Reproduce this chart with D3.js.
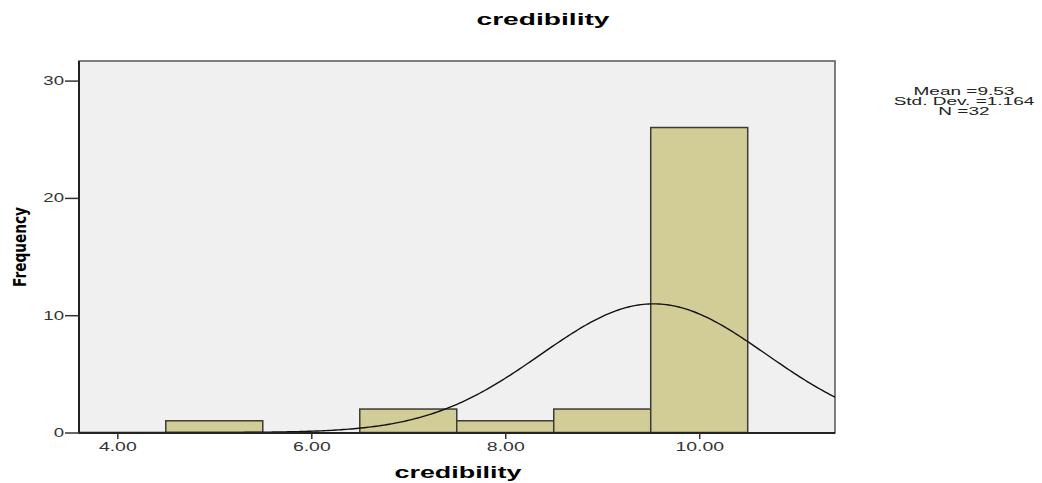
<!DOCTYPE html>
<html>
<head>
<meta charset="utf-8">
<script src="https://cdn.jsdelivr.net/npm/d3@7"></script>
<style>
body{margin:0;background:#fff;}
svg text{font-family:"Liberation Sans",Arial,sans-serif;}
</style>
</head>
<body>
<div id="chart"></div>
<script>
// histogram bins (lower edge, upper edge, count)
const binStart=[4.5,6.5,7.5,8.5,9.5];
const binEnd=[5.5,7.5,8.5,9.5,10.5];
const counts=[1,2,1,2,26];
const xTicks=[4,6,8,10];
const yTicks=[0,10,20,30];
const mean=9.53, sd=1.164, N=32;

const W=1042,H=483;
const plot={left:79,right:835,top:61,bottom:433};

const x=d3.scaleLinear().domain([3.605,11.4]).range([plot.left,plot.right]);
const y=d3.scaleLinear().domain([0,30]).range([432.5,80.6]);

const svg=d3.select("#chart").append("svg")
    .attr("width",W).attr("height",H);

// the original text is drawn wide, so stretch glyphs horizontally
function stretch(sel,k){
    sel.each(function(){
        const w=this.getComputedTextLength();
        d3.select(this).attr("textLength",w*k).attr("lengthAdjust","spacingAndGlyphs");
    });
}

// plot background
svg.append("rect")
    .attr("x",plot.left).attr("y",plot.top)
    .attr("width",plot.right-plot.left)
    .attr("height",plot.bottom-plot.top)
    .attr("fill","#f0f0f0")
    .attr("stroke","#555")
    .attr("stroke-width",1.5);

// bars
svg.selectAll(".bar")
    .data(counts)
    .enter()
    .append("rect")
    .attr("class","bar")
    .attr("x",(d,i)=>x(binStart[i]))
    .attr("y",d=>y(d))
    .attr("width",(d,i)=>x(binEnd[i])-x(binStart[i]))
    .attr("height",d=>y(0)-y(d))
    .attr("fill","#d2cd96")
    .attr("stroke","#3c3c34")
    .attr("stroke-width",1.5);

// normal curve from mean / sd / N (bin width 1)
const pts=d3.range(0,301).map(i=>{
    const v=x.domain()[0]+(x.domain()[1]-x.domain()[0])*i/300;
    const f=N/(sd*Math.sqrt(2*Math.PI))*Math.exp(-0.5*((v-mean)/sd)**2);
    return [v,f];
});
svg.append("path")
    .datum(pts)
    .attr("fill","none")
    .attr("stroke","#111")
    .attr("stroke-width",1.4)
    .attr("d",d3.line().x(d=>x(d[0])).y(d=>y(d[1])));

// axes
const yAxis=svg.append("g")
    .attr("transform",`translate(${plot.left},0)`)
    .call(d3.axisLeft(y).tickValues(yTicks).tickSize(14).tickPadding(1).tickFormat(d3.format("d")));
yAxis.select(".domain").attr("d",`M0,${plot.top}V${plot.bottom}`).attr("stroke","#222").attr("stroke-width",2);
yAxis.selectAll(".tick line").attr("stroke","#333").attr("stroke-width",1.5);
yAxis.selectAll("text").attr("font-size",12).attr("fill","#333").call(stretch,1.55);

const xAxis=svg.append("g")
    .attr("transform",`translate(0,${plot.bottom})`)
    .call(d3.axisBottom(x).tickValues(xTicks).tickSize(6).tickPadding(3).tickFormat(d3.format(".2f")));
xAxis.select(".domain").attr("d",`M${plot.left},0H${plot.right}`).attr("stroke","#222").attr("stroke-width",2);
xAxis.selectAll(".tick line").attr("stroke","#333").attr("stroke-width",1.5);
xAxis.selectAll("text").attr("font-size",12).attr("fill","#333").call(stretch,1.62);

// titles
svg.append("text")
    .attr("x",543).attr("y",25)
    .attr("text-anchor","middle")
    .attr("font-size",16).attr("font-weight","bold")
    .text("credibility")
    .call(stretch,1.76);

svg.append("text")
    .attr("x",458).attr("y",478)
    .attr("text-anchor","middle")
    .attr("font-size",16).attr("font-weight","bold")
    .text("credibility")
    .call(stretch,1.68);

svg.append("text")
    .attr("transform","translate(26,247) rotate(-90)")
    .attr("text-anchor","middle")
    .attr("font-size",18).attr("font-weight","bold")
    .style("font-family","'Liberation Sans Narrow','DejaVu Sans Condensed',sans-serif")
    .attr("textLength",80).attr("lengthAdjust","spacingAndGlyphs")
    .text("Frequency");

// stats box
const stats=["Mean =9.53","Std. Dev. =1.164","N =32"];
svg.selectAll(".stat")
    .data(stats)
    .enter()
    .append("text")
    .attr("class","stat")
    .attr("x",964)
    .attr("y",(d,i)=>95+i*10)
    .attr("text-anchor","middle")
    .attr("font-size",10)
    .attr("fill","#222")
    .text(d=>d)
    .call(stretch,1.9);
</script>
</body>
</html>
